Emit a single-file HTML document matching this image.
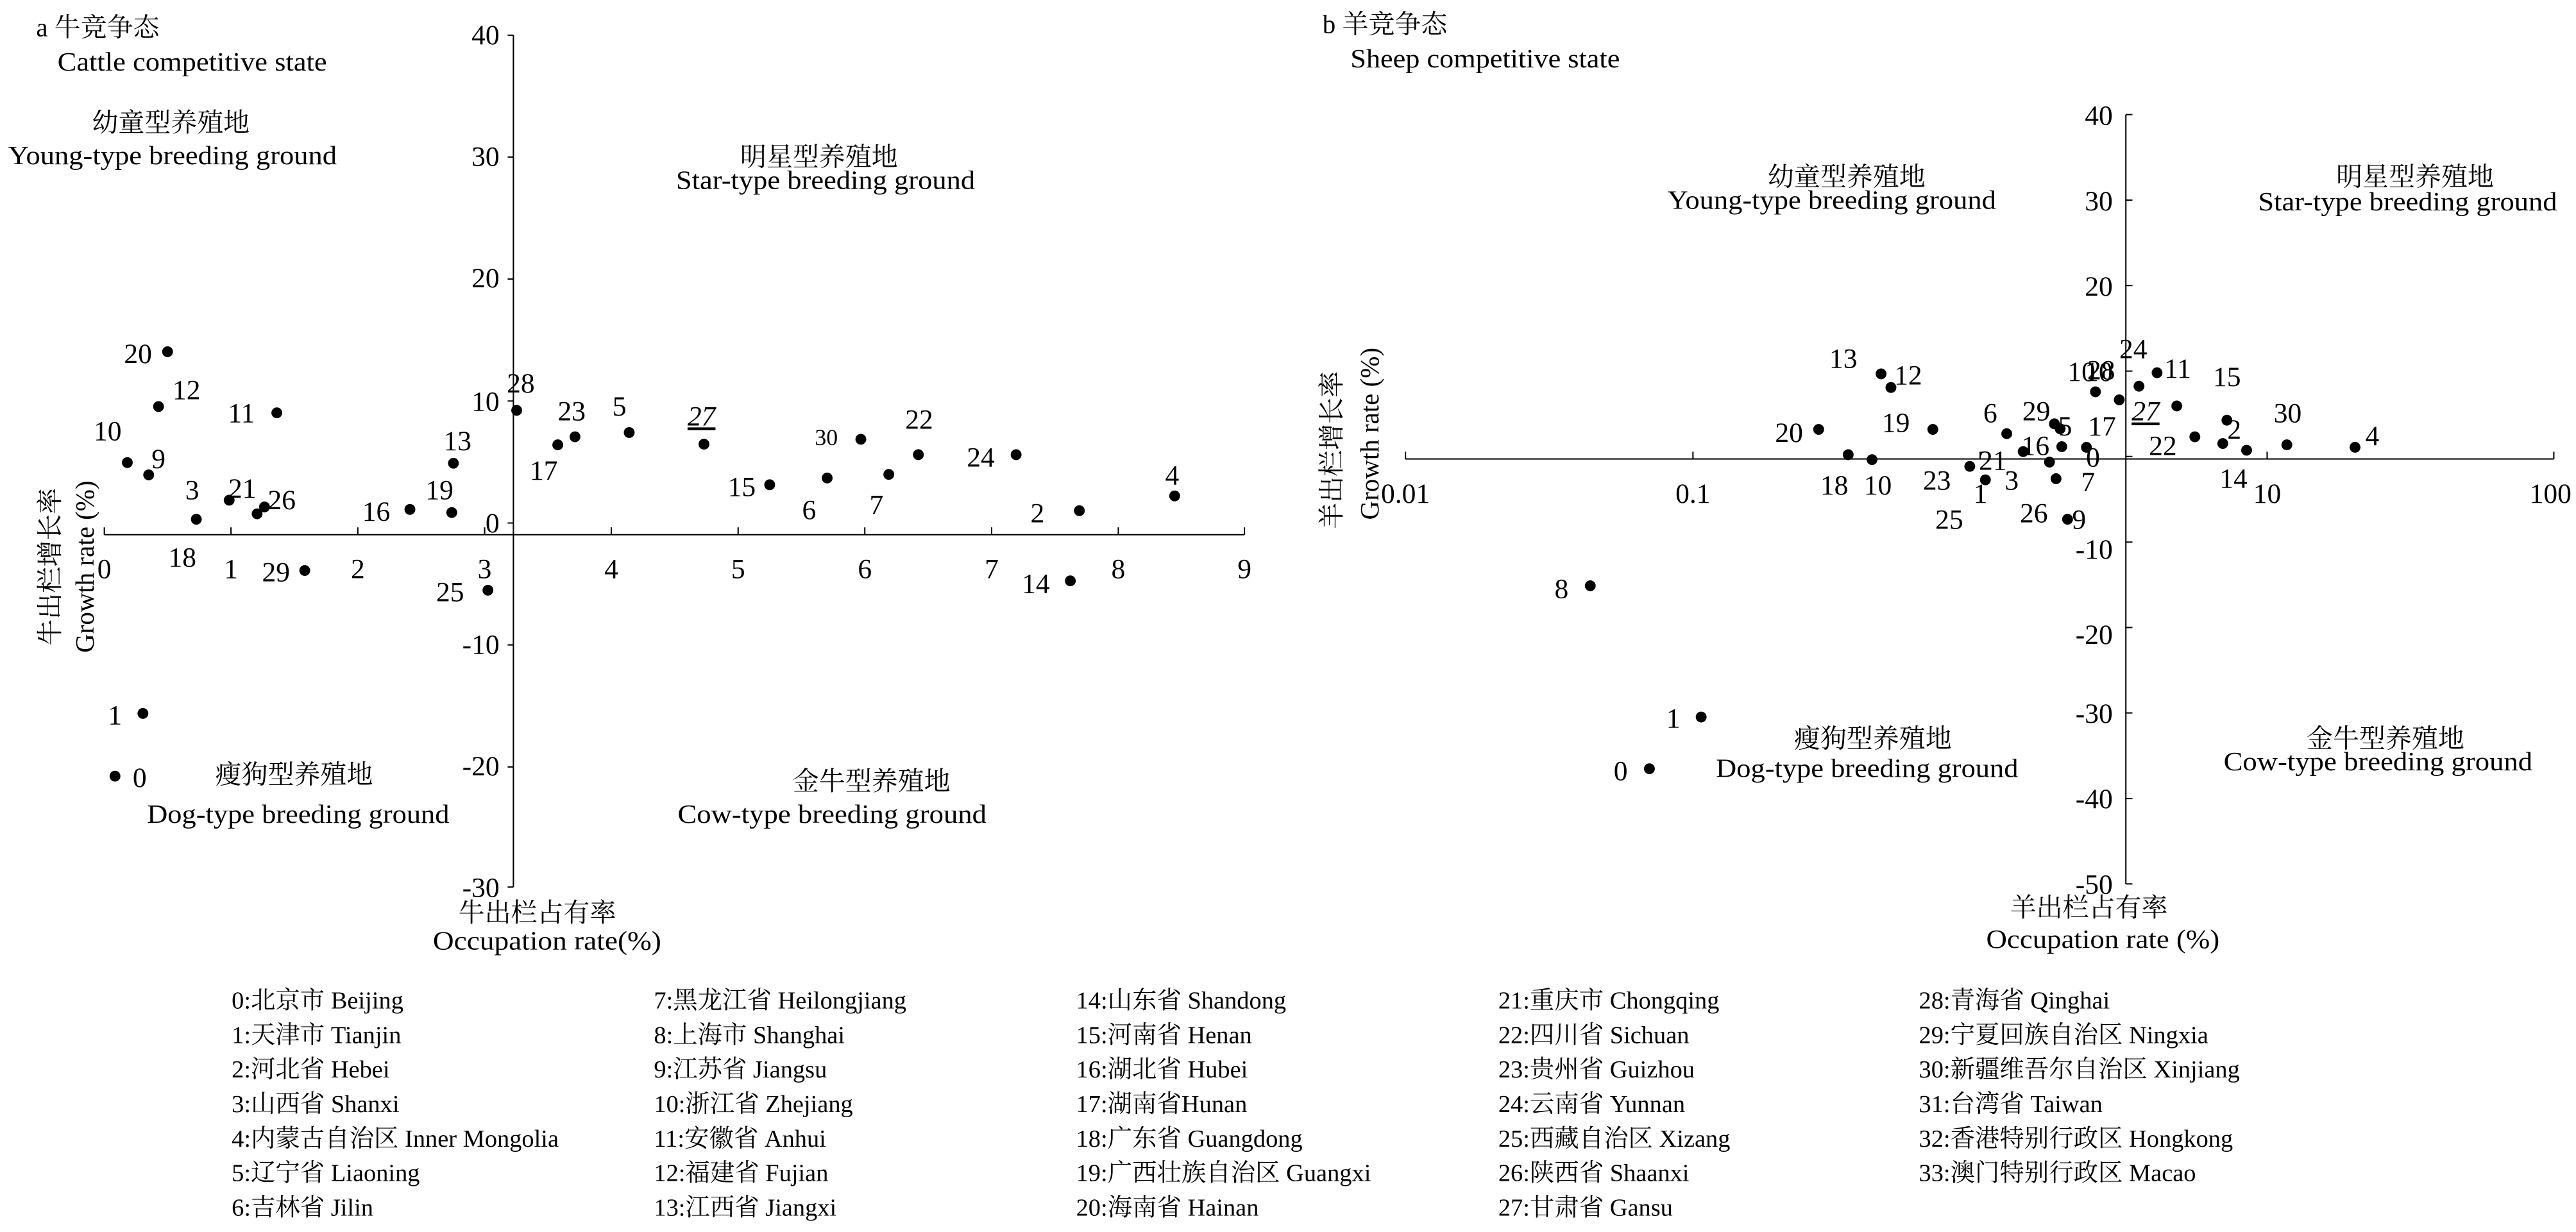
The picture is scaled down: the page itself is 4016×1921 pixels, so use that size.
<!DOCTYPE html>
<html><head><meta charset="utf-8"><style>
html,body{margin:0;padding:0;background:#fff;}
svg{display:block;}
text{font-family:"Liberation Serif","Noto Serif CJK SC","Noto Sans CJK SC",serif;fill:#000;}
.t{font-size:17px;font-family:"Liberation Serif","Noto Serif CJK SC",serif;}
.r{font-size:16px;font-family:"Liberation Serif","Noto Serif CJK SC",serif;}
.r text,.t text,.lg text{font-family:"Liberation Serif","Noto Serif CJK SC",serif;}
.lg{font-size:15px;font-family:"Liberation Serif","Noto Serif CJK SC",serif;}
</style></head><body>
<svg width="4016" height="1921" viewBox="0 0 1568 750" xmlns="http://www.w3.org/2000/svg" font-family="Liberation Serif, Noto Serif CJK SC, serif">
<g stroke="#000" stroke-width="0.8" fill="none">
<line x1="312.5" y1="21.4" x2="312.5" y2="540"/>
<line x1="63.5" y1="325.5" x2="757.5" y2="325.5"/>
<path d="M309 21.4h3.5M309 95.6h3.5M309 169.9h3.5M309 244.1h3.5M309 318.4h3.5M309 392.6h3.5M309 466.9h3.5M309 540h3.5"/>
<path d="M63.5 321v4.5M140.6 321v4.5M217.8 321v4.5M295 321v4.5M372.1 321v4.5M449.3 321v4.5M526.4 321v4.5M603.6 321v4.5M680.7 321v4.5M757.5 321v4.5"/>
<line x1="1294" y1="69.75" x2="1294" y2="538.1"/>
<line x1="855.5" y1="279.4" x2="1554.5" y2="279.4"/>
<path d="M1294 69.75h4M1294 121.8h4M1294 173.8h4M1294 225.9h4M1294 277.9h4M1294 330h4M1294 382h4M1294 434h4M1294 486.1h4M1294 538.1h4"/>
<path d="M855.5 275v4.4M1030.5 275v4.4M1205.3 275v4.4M1380 275v4.4M1554.5 275v4.4"/>
</g>
<g class="t" text-anchor="end">
<text x="304" y="27">40</text><text x="304" y="101">30</text><text x="304" y="175">20</text><text x="304" y="250">10</text><text x="304" y="324">0</text><text x="304" y="398">-10</text><text x="304" y="472">-20</text><text x="304" y="546">-30</text>
</g>
<g class="t" text-anchor="middle">
<text x="63.5" y="352">0</text><text x="140.6" y="352">1</text><text x="217.8" y="352">2</text><text x="295" y="352">3</text><text x="372.1" y="352">4</text><text x="449.3" y="352">5</text><text x="526.4" y="352">6</text><text x="603.6" y="352">7</text><text x="680.7" y="352">8</text><text x="757.5" y="352">9</text>
</g>
<g class="t" text-anchor="end">
<text x="1286" y="76">40</text><text x="1286" y="128">30</text><text x="1286" y="180">20</text><text x="1286" y="232">10</text><text x="1286" y="340">-10</text><text x="1286" y="392">-20</text><text x="1286" y="440">-30</text><text x="1286" y="492">-40</text><text x="1286" y="544">-50</text>
</g>
<g class="t" text-anchor="middle">
<text x="855.5" y="306">0.01</text><text x="1030.5" y="306">0.1</text><text x="1380" y="306">10</text><text x="1552.5" y="306">100</text>
</g>
<g fill="#000">
<circle cx="102" cy="214.1" r="3.3"/><circle cx="96.5" cy="247.5" r="3.3"/><circle cx="168.5" cy="251.3" r="3.3"/><circle cx="77.5" cy="281.6" r="3.3"/><circle cx="90.5" cy="289.1" r="3.3"/><circle cx="119.5" cy="316.1" r="3.3"/><circle cx="139.5" cy="304.5" r="3.3"/><circle cx="161" cy="308.6" r="3.3"/><circle cx="156.5" cy="312.8" r="3.3"/><circle cx="249.5" cy="310.1" r="3.3"/><circle cx="275" cy="312" r="3.3"/><circle cx="276" cy="282" r="3.3"/><circle cx="185.5" cy="347.3" r="3.3"/><circle cx="297" cy="359.3" r="3.3"/><circle cx="87" cy="434.3" r="3.3"/><circle cx="70" cy="472.5" r="3.3"/><circle cx="314.5" cy="249.8" r="3.3"/><circle cx="339.5" cy="270.8" r="3.3"/><circle cx="350" cy="265.9" r="3.3"/><circle cx="383" cy="263.3" r="3.3"/><circle cx="428.5" cy="270.4" r="3.3"/><circle cx="524" cy="267.4" r="3.3"/><circle cx="559" cy="276.8" r="3.3"/><circle cx="618.5" cy="276.8" r="3.3"/><circle cx="468.5" cy="295.1" r="3.3"/><circle cx="503.5" cy="291" r="3.3"/><circle cx="541" cy="288.8" r="3.3"/><circle cx="657" cy="310.9" r="3.3"/><circle cx="715" cy="301.9" r="3.3"/><circle cx="651.5" cy="353.6" r="3.3"/>
</g>
<g class="t" text-anchor="middle">
<text x="84" y="221">20</text><text x="113.5" y="243">12</text><text x="147" y="257">11</text><text x="65.5" y="268">10</text><text x="96.5" y="285">9</text><text x="117" y="304">3</text><text x="147.5" y="303">21</text><text x="171.5" y="310">26</text><text x="111" y="345">18</text><text x="168" y="354">29</text><text x="229" y="317">16</text><text x="267.5" y="304">19</text><text x="278.5" y="274">13</text><text x="274" y="366">25</text><text x="70" y="441">1</text><text x="85" y="479">0</text><text x="317" y="239">28</text><text x="348" y="256">23</text><text x="331" y="292">17</text><text x="377" y="253">5</text><text x="427" y="259" font-style="italic" text-decoration="underline">27</text><text x="503" y="271" font-size="14">30</text><text x="559.5" y="261">22</text><text x="597" y="284">24</text><text x="451.5" y="302">15</text><text x="492.5" y="316">6</text><text x="533.5" y="313">7</text><text x="631.5" y="318">2</text><text x="713.5" y="295">4</text><text x="630.5" y="361">14</text>
</g>
<g fill="#000">
<circle cx="1145" cy="227.6" r="3.3"/><circle cx="1151" cy="235.9" r="3.3"/><circle cx="1107" cy="261.4" r="3.3"/><circle cx="1176.5" cy="261.4" r="3.3"/><circle cx="1125" cy="276.8" r="3.3"/><circle cx="1139.5" cy="279.8" r="3.3"/><circle cx="1221.5" cy="264" r="3.3"/><circle cx="1250.5" cy="258" r="3.3"/><circle cx="1254" cy="261" r="3.3"/><circle cx="1231.5" cy="274.9" r="3.3"/><circle cx="1255" cy="271.9" r="3.3"/><circle cx="1270" cy="272.3" r="3.3"/><circle cx="1247.5" cy="281.3" r="3.3"/><circle cx="1199" cy="283.9" r="3.3"/><circle cx="1208.5" cy="292.1" r="3.3"/><circle cx="1251.5" cy="291.4" r="3.3"/><circle cx="1258.5" cy="316.1" r="3.3"/><circle cx="1275.5" cy="238.5" r="3.3"/><circle cx="1290" cy="243.4" r="3.3"/><circle cx="1302" cy="235.1" r="3.3"/><circle cx="1313" cy="226.9" r="3.3"/><circle cx="1325" cy="247.1" r="3.3"/><circle cx="1336" cy="265.9" r="3.3"/><circle cx="1355.5" cy="255.8" r="3.3"/><circle cx="1353" cy="270" r="3.3"/><circle cx="1367.5" cy="274.1" r="3.3"/><circle cx="1392" cy="270.8" r="3.3"/><circle cx="1433.5" cy="272.3" r="3.3"/><circle cx="968" cy="356.6" r="3.3"/><circle cx="1035.5" cy="436.5" r="3.3"/><circle cx="1004" cy="468" r="3.3"/>
</g>
<g class="t" text-anchor="middle">
<text x="1122" y="224">13</text><text x="1161.5" y="234">12</text><text x="1089" y="269">20</text><text x="1154" y="263">19</text><text x="1116.5" y="301">18</text><text x="1143" y="301">10</text><text x="1211.5" y="257">6</text><text x="1239.5" y="256">29</text><text x="1257" y="265">5</text><text x="1239" y="277">16</text><text x="1279.5" y="265">17</text><text x="1274" y="284">0</text><text x="1213" y="286">21</text><text x="1179" y="298">23</text><text x="1224.5" y="298">3</text><text x="1205.5" y="306">1</text><text x="1271" y="299">7</text><text x="1186.5" y="322">25</text><text x="1238" y="318">26</text><text x="1265.5" y="322">9</text><text x="1267" y="232">10</text><text x="1279" y="231">28</text><text x="1298.5" y="218">24</text><text x="1325.5" y="230">11</text><text x="1306" y="256" font-style="italic" text-decoration="underline">27</text><text x="1316.5" y="277">22</text><text x="1355.5" y="235">15</text><text x="1360" y="267">2</text><text x="1359.5" y="297">14</text><text x="1392.5" y="257">30</text><text x="1444" y="271">4</text><text x="950.5" y="364">8</text><text x="1018.5" y="443">1</text><text x="986.5" y="475">0</text>
</g>
<g class="r">
<text x="22" y="22">a 牛竞争态</text>
<text x="35" y="43" textLength="164" lengthAdjust="spacingAndGlyphs">Cattle competitive state</text>
<text x="805" y="20">b 羊竞争态</text>
<text x="822" y="41" textLength="164" lengthAdjust="spacingAndGlyphs">Sheep competitive state</text>
</g>
<g class="r" text-anchor="middle">
<text x="104" y="80">幼童型养殖地</text>
<text x="105" y="100" textLength="200" lengthAdjust="spacingAndGlyphs">Young-type breeding ground</text>
<text x="498.5" y="101">明星型养殖地</text>
<text x="502.5" y="115" textLength="182" lengthAdjust="spacingAndGlyphs">Star-type breeding ground</text>
<text x="179" y="477">瘦狗型养殖地</text>
<text x="181.5" y="501" textLength="184" lengthAdjust="spacingAndGlyphs">Dog-type breeding ground</text>
<text x="530.5" y="481">金牛型养殖地</text>
<text x="506.5" y="501" textLength="188" lengthAdjust="spacingAndGlyphs">Cow-type breeding ground</text>
<text x="327" y="561">牛出栏占有率</text>
<text x="333" y="578" textLength="139" lengthAdjust="spacingAndGlyphs">Occupation rate(%)</text>
<text x="1124" y="113">幼童型养殖地</text>
<text x="1115" y="127" textLength="200" lengthAdjust="spacingAndGlyphs">Young-type breeding ground</text>
<text x="1470" y="113">明星型养殖地</text>
<text x="1465.5" y="128" textLength="182" lengthAdjust="spacingAndGlyphs">Star-type breeding ground</text>
<text x="1140" y="455">瘦狗型养殖地</text>
<text x="1136.5" y="473" textLength="184" lengthAdjust="spacingAndGlyphs">Dog-type breeding ground</text>
<text x="1452" y="455">金牛型养殖地</text>
<text x="1447.5" y="469" textLength="188" lengthAdjust="spacingAndGlyphs">Cow-type breeding ground</text>
<text x="1271.5" y="558">羊出栏占有率</text>
<text x="1280" y="577" textLength="142" lengthAdjust="spacingAndGlyphs">Occupation rate (%)</text>
<text transform="translate(36,345) rotate(-90)">牛出栏增长率</text>
<text transform="translate(57,345) rotate(-90)">Growth rate (%)</text>
<text transform="translate(816,274) rotate(-90)">羊出栏增长率</text>
<text transform="translate(839,264) rotate(-90)">Growth rate (%)</text>
</g>
<g class="lg">
<text x="141" y="614">0:北京市 Beijing</text><text x="141" y="635">1:天津市 Tianjin</text><text x="141" y="656">2:河北省 Hebei</text><text x="141" y="677">3:山西省 Shanxi</text><text x="141" y="698">4:内蒙古自治区 Inner Mongolia</text><text x="141" y="719">5:辽宁省 Liaoning</text><text x="141" y="740">6:吉林省 Jilin</text>
<text x="398" y="614">7:黑龙江省 Heilongjiang</text><text x="398" y="635">8:上海市 Shanghai</text><text x="398" y="656">9:江苏省 Jiangsu</text><text x="398" y="677">10:浙江省 Zhejiang</text><text x="398" y="698">11:安徽省 Anhui</text><text x="398" y="719">12:福建省 Fujian</text><text x="398" y="740">13:江西省 Jiangxi</text>
<text x="655" y="614">14:山东省 Shandong</text><text x="655" y="635">15:河南省 Henan</text><text x="655" y="656">16:湖北省 Hubei</text><text x="655" y="677">17:湖南省Hunan</text><text x="655" y="698">18:广东省 Guangdong</text><text x="655" y="719">19:广西壮族自治区 Guangxi</text><text x="655" y="740">20:海南省 Hainan</text>
<text x="912" y="614">21:重庆市 Chongqing</text><text x="912" y="635">22:四川省 Sichuan</text><text x="912" y="656">23:贵州省 Guizhou</text><text x="912" y="677">24:云南省 Yunnan</text><text x="912" y="698">25:西藏自治区 Xizang</text><text x="912" y="719">26:陕西省 Shaanxi</text><text x="912" y="740">27:甘肃省 Gansu</text>
<text x="1168" y="614">28:青海省 Qinghai</text><text x="1168" y="635">29:宁夏回族自治区 Ningxia</text><text x="1168" y="656">30:新疆维吾尔自治区 Xinjiang</text><text x="1168" y="677">31:台湾省 Taiwan</text><text x="1168" y="698">32:香港特别行政区 Hongkong</text><text x="1168" y="719">33:澳门特别行政区 Macao</text>
</g>
</svg>
</body></html>
